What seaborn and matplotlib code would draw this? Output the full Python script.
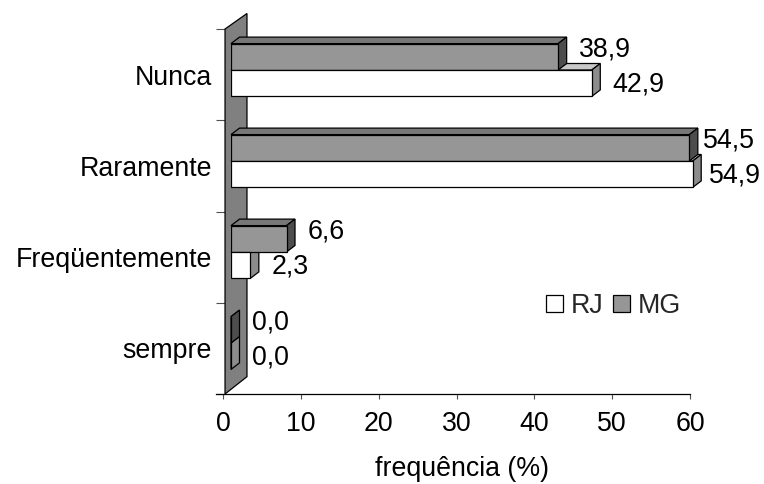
import numpy as np
import pandas as pd
import seaborn as sns
import matplotlib
matplotlib.use("Agg")
import matplotlib.pyplot as plt
from matplotlib.patches import Polygon, Patch

categories = ["Nunca", "Raramente", "Freqüentemente", "sempre"]
rj = [42.9, 54.9, 2.3, 0.0]
mg = [38.9, 54.5, 6.6, 0.0]
series = ["RJ", "MG"]
xticks = [0, 10, 20, 30, 40, 50, 60]
xlabel = "frequência (%)"

sns.set_theme(style="white")
plt.rcParams["font.family"] = ["Liberation Sans", "DejaVu Sans"]
FS = 19.3

W, H = 764, 484
fig = plt.figure(figsize=(W / 100, H / 100), dpi=100)
fig.patch.set_facecolor("white")


def fr(x0, y0, x1, y1):
    return [x0 / W, 1 - y1 / H, (x1 - x0) / W, (y1 - y0) / H]


# ---- axis frame (ticks, labels, wall) ----
ax2 = fig.add_axes(fr(216, 29, 690, 394))
ax2.set_xlim(-0.9, 60)
ax2.set_ylim(4, 0)
ax2.set_facecolor("none")
for s in ["top", "right", "left"]:
    ax2.spines[s].set_visible(False)
ax2.spines["bottom"].set_color("black")
ax2.spines["bottom"].set_linewidth(0.9)
ax2.set_xticks(xticks)
ax2.set_xticklabels([str(t) for t in xticks])
ax2.tick_params(axis="x", direction="out", length=3.6, width=0.8, color="#505050",
                pad=8.5, labelsize=FS, bottom=True, labelcolor="black")
ax2.set_yticks(range(5))
ax2.set_yticklabels([])
ax2.set_yticks([0.5, 1.5, 2.5, 3.5], minor=True)
ax2.set_yticklabels(categories, minor=True)
ax2.tick_params(axis="y", which="major", direction="in", length=6.5, width=0.8,
                color="#505050", left=True)
ax2.tick_params(axis="y", which="minor", length=0, pad=3, labelsize=FS, left=True,
                labelcolor="black")
ax2.grid(False)
wall = Polygon([(0.26, 0.0), (3.08, -0.17), (3.08, 3.81), (0.26, 4.0)], closed=True,
               facecolor="#808080", edgecolor="black", linewidth=0.9, clip_on=False,
               zorder=1.5)
ax2.add_patch(wall)
ax2.set_zorder(1)

# ---- bars ----
df = pd.DataFrame({
    "cat": categories * 2,
    "val": mg + rj,
    "estado": ["MG"] * len(categories) + ["RJ"] * len(categories),
})
BX0, BX1 = 231, 735.6
BY0, BY1 = 24.5, 388.5
ax = fig.add_axes(fr(BX0, BY0, BX1, BY1))
sns.barplot(data=df, x="val", y="cat", hue="estado", hue_order=["MG", "RJ"],
            order=categories, palette={"MG": "#969696", "RJ": "#ffffff"},
            width=0.58, edgecolor="black", linewidth=0.9, saturation=1,
            errorbar=None, orient="h", legend=False, ax=ax)
ax.set_xlim(0, 60)
ax.set_ylim(3.5, -0.5)
ax.axis("off")
ax.set_zorder(3)

px_x = (BX1 - BX0) / 60.0
px_y = (BY1 - BY0) / 4.0
DX, DY = 8.5, 6.5
ddx = DX / px_x
ddy = -DY / px_y

bars = list(ax.patches)
for p in bars:
    x0, y0 = p.get_x(), p.get_y()
    w, h = p.get_width(), p.get_height()
    is_rj = p.get_facecolor()[0] > 0.9
    top_c, side_c = ("#c8c8c8", "#8c8c8c") if is_rj else ("#777777", "#4d4d4d")
    z = 2.0 if is_rj else 2.5
    p.set_zorder(3)
    top = Polygon([(x0, y0), (x0 + w, y0), (x0 + w + ddx, y0 + ddy), (x0 + ddx, y0 + ddy)],
                  closed=True, facecolor=top_c, edgecolor="black", linewidth=0.9,
                  zorder=z, clip_on=False)
    side = Polygon([(x0 + w, y0), (x0 + w, y0 + h), (x0 + w + ddx, y0 + h + ddy),
                    (x0 + w + ddx, y0 + ddy)],
                   closed=True, facecolor=side_c, edgecolor="black", linewidth=0.9,
                   zorder=z, clip_on=False)
    ax.add_patch(top)
    ax.add_patch(side)
    cap = 56.8 if is_rj else 56.1
    lx = min(w + 21 / px_x, cap)
    ly = y0 + h / 2 + (1.5 / px_y if is_rj else -7 / px_y)
    ax.text(lx, ly, f"{w:.1f}".replace(".", ","), ha="left", va="center",
            fontsize=FS, color="black", clip_on=False, zorder=4)

ax.set_xlim(0, 60)
ax.set_ylim(3.5, -0.5)

# ---- legend ----
handles = [Patch(facecolor="white", edgecolor="black", linewidth=0.9, label="RJ"),
           Patch(facecolor="#969696", edgecolor="black", linewidth=0.9, label="MG")]
fig.legend(handles=handles, loc="center left", bbox_to_anchor=(546 / W, 1 - 306 / H),
           ncol=2, frameon=False, fontsize=FS, handlelength=0.63, handleheight=0.63,
           handletextpad=0.3, columnspacing=0.35, borderpad=0, borderaxespad=0)

fig.text(462 / W, 1 - 469 / H, xlabel, ha="center", va="center", fontsize=FS,
         color="black")

fig.savefig("out.png", dpi=100, facecolor="white")
